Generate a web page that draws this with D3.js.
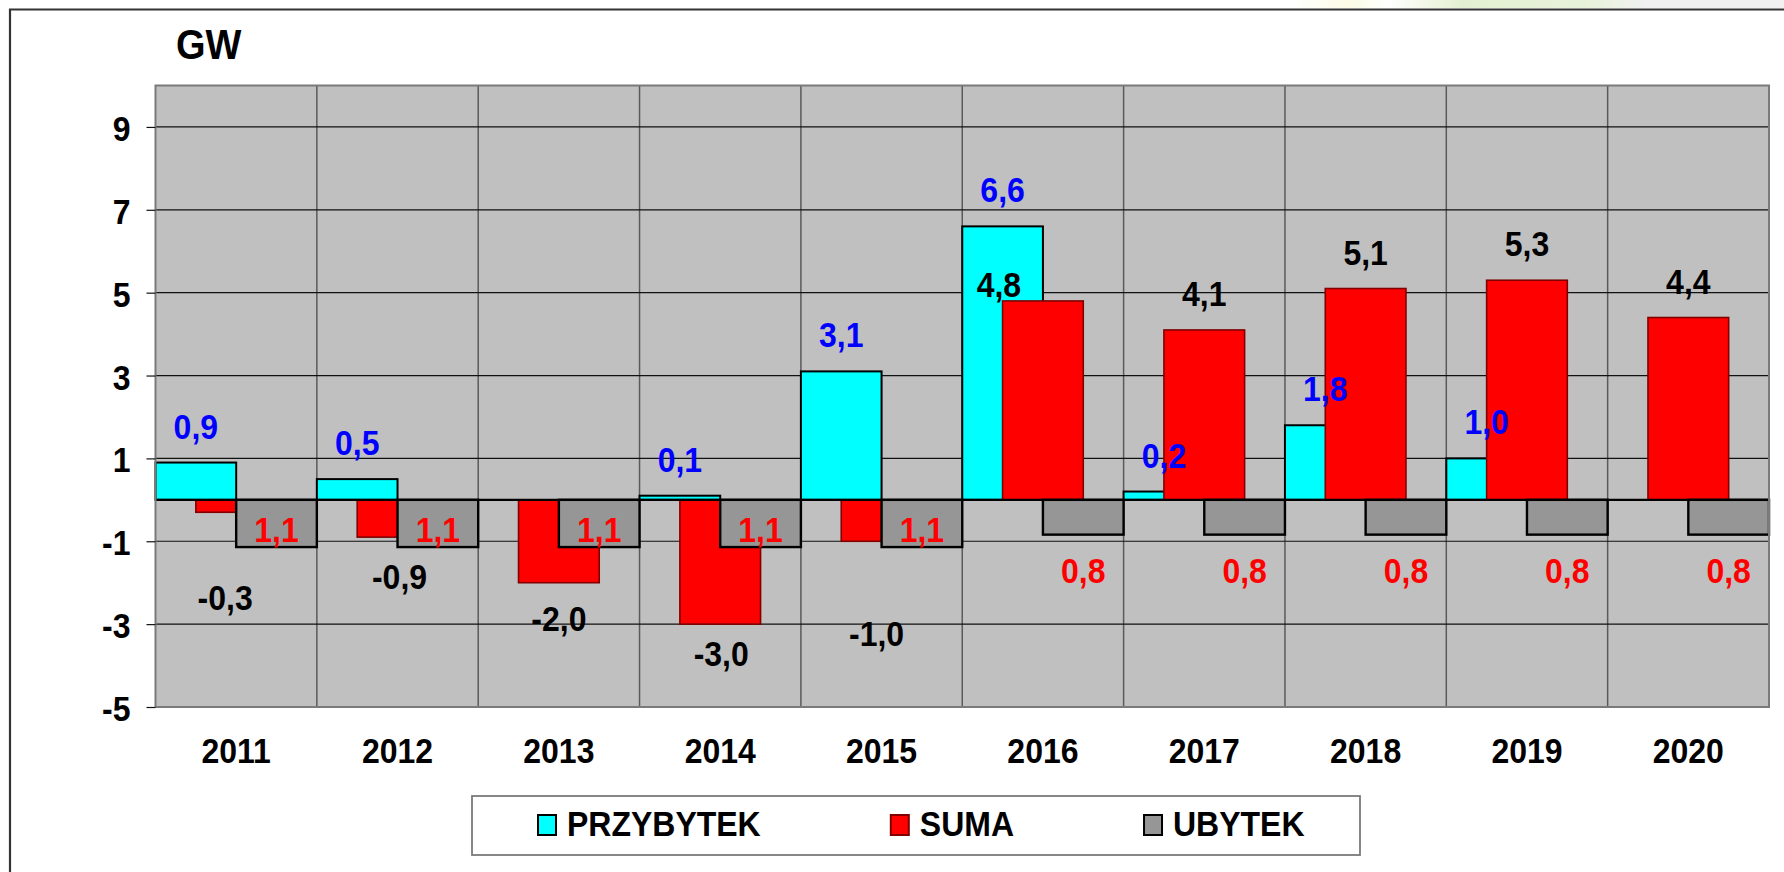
<!DOCTYPE html>
<html>
<head>
<meta charset="utf-8">
<script src="https://cdn.jsdelivr.net/npm/d3@7"></script>
<style>
  html, body { margin: 0; padding: 0; background: #fff; }
  svg { display: block; font-family: "Liberation Sans", Arial, sans-serif; font-weight: bold; }
</style>
</head>
<body>
<svg width="1784" height="872"></svg>
<script>
var years = ["2011", "2012", "2013", "2014", "2015", "2016", "2017", "2018", "2019", "2020"];
var przybytek = [0.9, 0.5, null, 0.1, 3.1, 6.6, 0.2, 1.8, 1.0, null];
var suma = [-0.3, -0.9, -2.0, -3.0, -1.0, 4.8, 4.1, 5.1, 5.3, 4.4];
var ubytek = [-1.14, -1.14, -1.14, -1.14, -1.14, -0.84, -0.84, -0.84, -0.84, -0.84];
var yTicks = [9, 7, 5, 3, 1, -1, -3, -5];
var seriesNames = ["PRZYBYTEK", "SUMA", "UBYTEK"];

// label nudges (px) where the original labels were moved by hand
var sumaLabelShift = [[-11, 50], [2, 4], [0, 0], [1, -6], [-5, 57], [-44, 20], [0, 0], [0, 0], [0, 0], [0, 0]];

var svg = d3.select("svg");
var plot = { left: 155.5, right: 1769, top: 85.5, bottom: 707 };

var x = d3.scaleBand().domain(years).range([plot.left, plot.right]).padding(0);
var y = d3.scaleLinear().domain([-5, 10]).range([plot.bottom, plot.top]);
var bw = x.bandwidth();
// Polish style: comma decimal, plain hyphen for minus
var fmt = function(v) { return v.toFixed(1).replace(".", ","); };

// faint page background strip at the top
var grad = svg.append("defs").append("linearGradient").attr("id", "bgstrip");
[[0, "#ffffff"], [0.12, "#fbfbe6"], [0.2, "#ffffff"], [0.35, "#e4f1d0"], [0.62, "#e8f2dc"], [0.72, "#f1f1f1"], [1, "#f1f1f1"]]
  .forEach(function(s) { grad.append("stop").attr("offset", s[0]).attr("stop-color", s[1]); });
svg.append("rect").attr("x", 1290).attr("y", 0).attr("width", 494).attr("height", 8).attr("fill", "url(#bgstrip)");

// outer frame
svg.append("path").attr("d", "M10,872V9.5H1784").attr("fill", "none").attr("stroke", "#333").attr("stroke-width", 2.2);

svg.append("text").attr("x", 176).attr("y", 59).attr("font-size", 38).text("GW");

// plot area
svg.append("rect")
  .attr("x", plot.left).attr("y", plot.top)
  .attr("width", plot.right - plot.left).attr("height", plot.bottom - plot.top)
  .attr("fill", "#c0c0c0");

var g = svg.append("g");

g.selectAll(".vgrid").data(years.slice(1)).enter().append("line")
  .attr("x1", function(d) { return x(d); }).attr("x2", function(d) { return x(d); })
  .attr("y1", plot.top).attr("y2", plot.bottom)
  .attr("stroke", "#5a5a5a").attr("stroke-width", 1.5);

g.selectAll(".hgrid").data(yTicks).enter().append("line")
  .attr("x1", plot.left).attr("x2", plot.right)
  .attr("y1", function(d) { return y(d); }).attr("y2", function(d) { return y(d); })
  .attr("stroke", "#111").attr("stroke-width", 1.2);

svg.append("rect")
  .attr("x", plot.left).attr("y", plot.top)
  .attr("width", plot.right - plot.left).attr("height", plot.bottom - plot.top)
  .attr("fill", "none").attr("stroke", "#7a7a7a").attr("stroke-width", 2);

// y axis
var yAxis = svg.append("g").attr("transform", "translate(" + plot.left + ",0)")
  .call(d3.axisLeft(y).tickValues(yTicks).tickSize(9).tickPadding(16)
    .tickFormat(function(d) { return String(d); }));
yAxis.select(".domain").remove();
yAxis.selectAll(".tick line").attr("stroke", "#111").attr("stroke-width", 1.2);
yAxis.selectAll(".tick text").attr("font-size", 32).attr("font-family", "Liberation Sans, Arial, sans-serif")
  .attr("font-weight", "bold").attr("fill", "#000").attr("dy", 13.5).attr("y", 0);

// x axis labels
var xAxis = svg.append("g").attr("transform", "translate(0," + plot.bottom + ")")
  .call(d3.axisBottom(x).tickSize(0).tickPadding(0));
xAxis.select(".domain").remove();
xAxis.selectAll(".tick text").attr("font-size", 32).attr("font-family", "Liberation Sans, Arial, sans-serif")
  .attr("font-weight", "bold").attr("fill", "#000").attr("y", 56).attr("dy", 0);

// bars
function bars(values, offset, fill, stroke, sw) {
  var data = years.map(function(d, i) { return { year: d, v: values[i] }; })
    .filter(function(d) { return d.v !== null; });
  g.selectAll(null).data(data).enter().append("rect")
    .attr("x", function(d) { return x(d.year) + offset; })
    .attr("width", bw / 2)
    .attr("y", function(d) { return y(Math.max(0, d.v)); })
    .attr("height", function(d) { return Math.abs(y(d.v) - y(0)); })
    .attr("fill", fill).attr("stroke", stroke).attr("stroke-width", sw);
}
bars(przybytek, 0, "#00ffff", "#000", 2);
bars(suma, bw / 4, "#ff0000", "#800000", 1.6);
bars(ubytek, bw / 2, "#969696", "#000", 2.4);

g.append("line").attr("x1", plot.left).attr("x2", plot.right)
  .attr("y1", y(0)).attr("y2", y(0)).attr("stroke", "#000").attr("stroke-width", 2.4);

// data labels
function labels(values, offset, color, shift, textFn, inside) {
  var data = years.map(function(d, i) { return { year: d, v: values[i], i: i }; })
    .filter(function(d) { return d.v !== null; });
  svg.selectAll(null).data(data).enter().append("text")
    .attr("text-anchor", "middle").attr("font-size", 32).attr("fill", color)
    .attr("x", function(d) { return x(d.year) + offset + bw / 4 + (shift ? shift[d.i][0] : 0); })
    .attr("y", function(d) {
      var base = d.v >= 0 ? y(d.v) - 24 : y(d.v) + 48;
      if (inside && inside(d)) base = y(d.v) - 5;
      return base + (shift ? shift[d.i][1] : 0);
    })
    .text(function(d) { return textFn(d.v); });
}
labels(przybytek, 0, "#0000ff", null, fmt);
labels(suma, bw / 4, "#000", sumaLabelShift, fmt);
labels(ubytek, bw / 2, "#ff0000", null, function(v) { return fmt(Math.abs(v)); },
  function(d) { return d.v < -1; });

// legend
var legend = svg.append("g");
legend.append("rect").attr("x", 472).attr("y", 796).attr("width", 888).attr("height", 59)
  .attr("fill", "#fff").attr("stroke", "#7a7a7a").attr("stroke-width", 1.8);
var fills = ["#00ffff", "#ff0000", "#969696"];
var strokes = ["#000", "#800000", "#000"];
var lx = 538;
seriesNames.forEach(function(name, i) {
  legend.append("rect").attr("x", lx).attr("y", 815).attr("width", 18).attr("height", 20)
    .attr("fill", fills[i]).attr("stroke", strokes[i]).attr("stroke-width", 2);
  var t = legend.append("text").attr("x", lx + 29).attr("y", 836).attr("font-size", 32).text(name);
  lx += 29 + t.node().getComputedTextLength() + 130;
});

// the original lettering is a little taller than plain Arial bold: stretch it around the baseline
svg.selectAll("text").each(function() {
  var t = d3.select(this);
  var tx = +t.attr("x") || 0, ty = (+t.attr("y") || 0) + (parseFloat(t.attr("dy")) || 0);
  t.attr("x", 0).attr("y", 0).attr("dy", 0)
    .attr("transform", "translate(" + tx + "," + ty + ") scale(1,1.1)");
});
</script>
</body>
</html>
